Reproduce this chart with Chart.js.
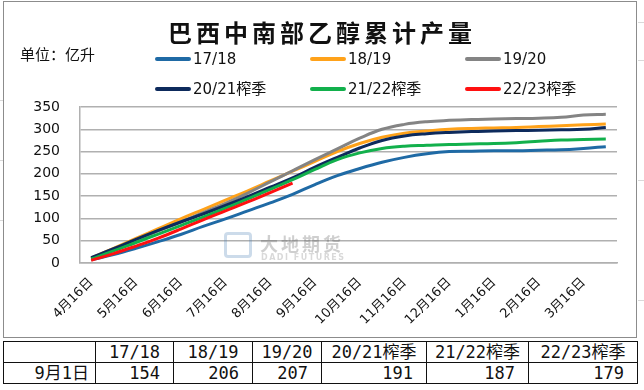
<!DOCTYPE html>
<html>
<head>
<meta charset="utf-8">
<script src="https://cdn.jsdelivr.net/npm/chart.js@4"></script>
<style>
  body { margin: 0; width: 644px; height: 390px; background: #fff; overflow: hidden; position: relative; font-family: 'DejaVu Sans', 'Noto Sans CJK SC', sans-serif; }
  #frame { position: absolute; left: 3px; top: 1px; width: 634px; height: 337px; border: 1px solid #8c8c8c; box-sizing: border-box; }
  #wrap { position: absolute; left: 0; top: 0; width: 644px; height: 340px; }
  #title { position: absolute; left: 0; width: 644px; top: 14px; text-align: center; font: bold 24px 'Noto Sans CJK SC', serif; letter-spacing: 4px; color: #111; }
  #unit { position: absolute; left: 20px; top: 43px; font: 15px 'Noto Sans CJK SC', sans-serif; color: #111; }
  .leg { position: absolute; font: 15px 'DejaVu Sans', 'Noto Sans CJK SC', sans-serif; color: #111; white-space: nowrap; line-height: 18px; }
  .leg i { display: inline-block; width: 36px; height: 4px; border-radius: 2px; vertical-align: middle; margin-right: 2px; position: relative; top: -1px; }
  #mark { position: absolute; left: 224px; top: 230px; opacity: 0.28; pointer-events: none; }
  #mark .logo { position: absolute; left: 0; top: 2px; width: 28px; height: 26px; border: 3px solid #4a7fb5; border-radius: 4px; box-sizing: border-box; }
  #mark .cn { position: absolute; left: 36px; top: 0; font: bold 18px 'Noto Sans CJK SC', sans-serif; color: #555; letter-spacing: 3px; white-space: nowrap; }
  #mark .en { position: absolute; left: 37px; top: 23px; font: bold 8px 'DejaVu Sans', sans-serif; color: #777; letter-spacing: 1.5px; white-space: nowrap; }
  table { position: absolute; left: 3px; top: 341px; border-collapse: collapse; table-layout: fixed; font: 17px 'DejaVu Sans Mono', 'Noto Sans CJK SC', monospace; color: #111; }
  td { border: 1.5px solid #111; height: 20px; padding: 0; line-height: 20px; white-space: nowrap; }
  tr.head td { text-align: center; }
  tr.val td { text-align: right; padding-right: 13px; }
  tr.val td:first-child { padding-right: 6px; }
  .cell { position: absolute; background: #d9d9d9; }
</style>
</head>
<body>
<div class="cell" style="left:0;top:100px;width:3px;height:1px"></div>
<div class="cell" style="left:0;top:160px;width:3px;height:1px"></div>
<div class="cell" style="left:0;top:220px;width:3px;height:1px"></div>
<div class="cell" style="left:638px;top:22px;width:6px;height:1px"></div>
<div class="cell" style="left:638px;top:60px;width:6px;height:1px"></div>
<div class="cell" style="left:638px;top:180px;width:6px;height:1px"></div>
<div class="cell" style="left:638px;top:300px;width:6px;height:1px"></div>
<div id="frame"></div>
<div id="wrap"><canvas id="chart" width="644" height="340"></canvas></div>
<div id="title">巴西中南部乙醇累计产量</div>
<div id="unit">单位：亿升</div>
<div id="legend"></div>
<div id="mark"><div class="logo"></div><div class="cn">大地期货</div><div class="en">DADI FUTURES</div></div>
<table id="tbl"></table>
<script>
// 半月度累计产量（亿升）
const dates = ['4月16日', '5月1日', '5月16日', '6月1日', '6月16日', '7月1日', '7月16日', '8月1日',
    '8月16日', '9月1日', '9月16日', '10月1日', '10月16日', '11月1日', '11月16日', '12月1日',
    '12月16日', '1月1日', '1月16日', '2月1日', '2月16日', '3月1日', '3月16日', '4月1日'];

const seasons = ['17/18', '18/19', '19/20', '20/21榨季', '21/22榨季', '22/23榨季'];
const colors = ['#1f6aa5', '#ffa21a', '#848484', '#0d2a5c', '#12b04c', '#ff1010'];

const s1718 = [7, 19, 33, 48, 64, 82, 99, 117, 135, 154, 176, 196, 212, 226, 237, 245, 250, 251, 252, 252, 253, 254, 257, 261];
const s1819 = [11, 33, 55, 77, 99, 120, 141, 162, 184, 206, 228, 250, 268, 282, 291, 296, 300, 302, 303, 304, 306, 308, 310, 312];
const s1920 = [10, 30, 51, 72, 92, 113, 134, 157, 182, 207, 232, 256, 280, 300, 311, 317, 320, 322, 323, 324, 325, 327, 332, 334];
const s2021 = [12, 32, 53, 73, 92, 110, 129, 149, 170, 191, 215, 237, 258, 275, 285, 290, 293, 295, 296, 297, 298, 299, 300, 304];
const s2122 = [9, 27, 46, 65, 84, 103, 123, 144, 165, 187, 210, 232, 247, 257, 262, 264, 266, 267, 268, 270, 273, 276, 277, 278];
const s2223 = [6, 21, 38, 56, 76, 97, 117, 137, 158, 179];

const series = [s1718, s1819, s1920, s2021, s2122, s2223];

// 表格：9月1日
const tableDate = '9月1日';
const tableValues = [154, 206, 207, 191, 187, 179];

// legend
const legendPos = [[155, 50], [310, 50], [465, 50], [155, 80], [310, 80], [465, 80]];
let legHtml = '';
seasons.forEach(function(name, i) {
    legHtml += '<div class="leg" style="left:' + legendPos[i][0] + 'px;top:' + legendPos[i][1] + 'px">' +
        '<i style="background:' + colors[i] + '"></i>' + name + '</div>';
});
document.getElementById('legend').innerHTML = legHtml;

// table
const colWidths = [92, 78, 79, 69, 105, 102, 109];
let tbl = '<colgroup>' + colWidths.map(w => '<col style="width:' + w + 'px">').join('') + '</colgroup>';
tbl += '<tr class="head"><td></td>' + seasons.map(s => '<td>' + s + '</td>').join('') + '</tr>';
tbl += '<tr class="val"><td>' + tableDate + '</td>' + tableValues.map(v => '<td>' + v + '</td>').join('') + '</tr>';
document.getElementById('tbl').innerHTML = tbl;

const datasets = seasons.map(function(name, i) {
    return {
        label: name,
        data: series[i],
        borderColor: colors[i],
        backgroundColor: colors[i],
        borderWidth: 3,
        pointRadius: 0,
        tension: 0.4,
        fill: false,
        order: 6 - i
    };
});

new Chart(document.getElementById('chart'), {
    type: 'line',
    data: { labels: dates, datasets: datasets },
    options: {
        responsive: false,
        animation: false,
        devicePixelRatio: 1,
        layout: { padding: { top: 107, right: 27, left: 0, bottom: 0 } },
        plugins: { legend: { display: false }, tooltip: { enabled: false } },
        scales: {
            x: {
                offset: true,
                grid: { display: false, drawTicks: false },
                border: { display: true, color: '#b0b0b0', width: 1.5 },
                ticks: {
                    autoSkip: false,
                    maxRotation: 45,
                    minRotation: 45,
                    padding: 12,
                    color: '#111',
                    font: { family: "'DejaVu Sans', 'Noto Sans CJK SC'", size: 13 },
                    callback: function(v, i) { return i % 2 === 0 ? dates[i] : ''; }
                },
                afterFit: function(scale) { scale.height = 77; }
            },
            y: {
                min: 0,
                max: 350,
                ticks: {
                    stepSize: 50,
                    padding: 20,
                    color: '#111',
                    font: { family: "'DejaVu Sans'", size: 14 }
                },
                grid: { color: '#b0b0b0', lineWidth: 1.5, drawTicks: false },
                border: { display: true, color: '#b0b0b0', width: 1.5 },
                afterFit: function(scale) { scale.width = 80; }
            }
        }
    }
});
</script>
</body>
</html>
